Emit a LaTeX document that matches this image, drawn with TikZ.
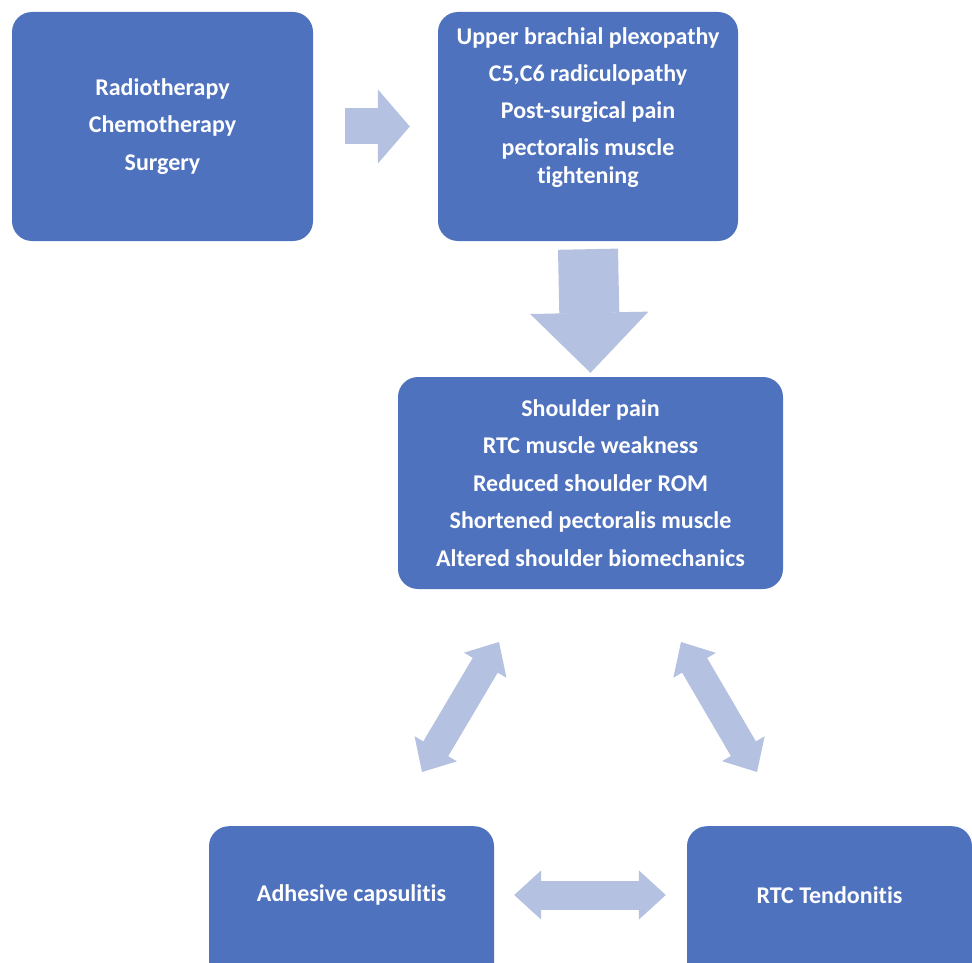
\documentclass[tikz,border=0pt]{standalone}
\usepackage{fontspec}
\setmainfont{Carlito}[Ligatures=NoCommon]
\usetikzlibrary{arrows.meta}
\definecolor{boxblue}{HTML}{4F72BE}
\definecolor{arrowblue}{HTML}{B4C1E0}

\begin{document}
\begin{tikzpicture}[
    x=1pt, y=-1pt,
    % Style for the blue boxes
    box/.style={rectangle, rounded corners=20pt, fill=boxblue, text=white,
        font=\bfseries\fontsize{24}{37.5}\selectfont, align=center, inner sep=0pt},
    % Style for text set as a label inside a box
    boxtext/.style={text=white, font=\bfseries\fontsize{24}{37}\selectfont, align=center},
    % Style for the pale block arrows
    block arrow/.style={draw=arrowblue, line width=36pt,
        -{Triangle[length=32pt, width=74pt, line width=1.5pt, fill=arrowblue]}},
    big arrow/.style={draw=arrowblue, line width=60pt,
        -{Triangle[length=60pt, width=118pt, line width=1.5pt, fill=arrowblue]}},
    both arrow/.style={draw=arrowblue, line width=29pt,
        {Triangle[length=27pt, width=49pt, line width=1.5pt, fill=arrowblue]}-{Triangle[length=27pt, width=49pt, line width=1.5pt, fill=arrowblue]}}
]

    \clip (0,0) rectangle (972,963);

    % --- 1. Boxes ---
    \node[box, minimum width=301, minimum height=229] (causes) at (162.5,126.5)
        {Radiotherapy\\Chemotherapy\\Surgery};
    \node[box, minimum width=300, minimum height=229,
        label={[boxtext, yshift=19pt]center:Upper brachial plexopathy\\C5,C6 radiculopathy\\Post-surgical pain\\pectoralis muscle\\[-9pt]tightening}]
        (injury) at (588,126.5) {};
    \node[box, minimum width=385, minimum height=212] (shoulder) at (590.5,483)
        {Shoulder pain\\RTC muscle weakness\\Reduced shoulder ROM\\Shortened pectoralis muscle\\Altered shoulder biomechanics};
    \node[box, minimum width=285, minimum height=180, anchor=north,
        label={[boxtext, yshift=21pt]center:Adhesive capsulitis}]
        (capsulitis) at (351.5,826) {};
    \node[box, minimum width=285, minimum height=180, anchor=north,
        label={[boxtext, yshift=21pt]center:RTC Tendonitis}]
        (tendonitis) at (829.5,826) {};

    % --- 2. Free ends of the slanted arrows ---
    \coordinate (capsulitis top) at (422,772);
    \coordinate (shoulder left) at (499,642);
    \coordinate (shoulder right) at (681,642);
    \coordinate (tendonitis top) at (757,772);

    % --- 3. Block arrows ---
    \draw[block arrow] ([xshift=32pt]causes.east) -- ([xshift=-28pt]injury.west);
    \draw[big arrow] ([yshift=-8pt]injury.south) -- ([yshift=4pt]shoulder.north);
    \draw[both arrow] (capsulitis top) -- (shoulder left);
    \draw[both arrow] (shoulder right) -- (tendonitis top);
    \draw[both arrow] ([xshift=20pt,yshift=-69pt]capsulitis.north east) -- ([xshift=-21pt,yshift=-69pt]tendonitis.north west);

\end{tikzpicture}
\end{document}
